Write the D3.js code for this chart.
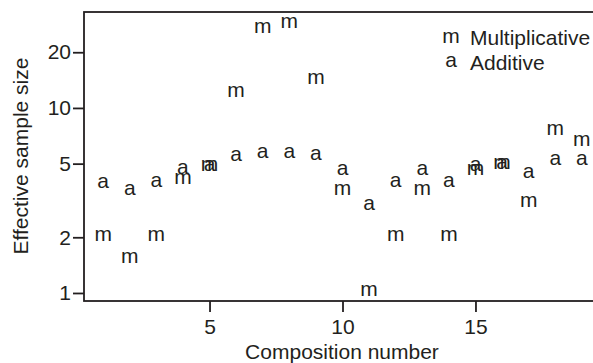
<!DOCTYPE html>
<html>
<head>
<meta charset="utf-8">
<script src="https://cdn.jsdelivr.net/npm/d3@7"></script>
<style>
  body { margin: 0; background: #fff; }
  svg { display: block; }
  text { font-family: "Liberation Sans", Arial, Helvetica, sans-serif; fill: #231f20; }
</style>
</head>
<body>
<svg id="chart" width="593" height="363"></svg>
<script>
// composition numbers 1..19
const compositions = d3.range(1, 20);
// effective sample size
const multiplicative = [2.05, 1.55, 2.05, 4.15, 4.87, 12.2, 27.2, 29.0, 14.4, 3.63,
                        1.03, 2.05, 3.63, 2.05, 4.63, 5.03, 3.12, 7.69, 6.66];
const additive = [3.97, 3.63, 3.99, 4.71, 4.88, 5.55, 5.71, 5.72, 5.62, 4.65,
                  3.00, 3.98, 4.65, 3.98, 4.87, 5.03, 4.45, 5.26, 5.26];
const xTicks = [5, 10, 15];
const yTicks = [1, 2, 5, 10, 20];
const legendSymbols = ['m', 'a'];
const legendLabels = ['Multiplicative', 'Additive'];

const ink = '#231f20';
const fs = 21;

const svg = d3.select('#chart');

const x = d3.scaleLinear().domain([0.28, 19.72]).range([84, 601]);
const y = d3.scaleLog().domain([0.905, 33.0]).range([301, 12]);

// box (right side falls outside the picture)
svg.append('rect')
  .attr('x', x.range()[0]).attr('y', y.range()[1])
  .attr('width', x.range()[1] - x.range()[0])
  .attr('height', y.range()[0] - y.range()[1])
  .attr('fill', 'none')
  .attr('stroke', ink)
  .attr('stroke-width', 1.8);

const xAxis = svg.append('g')
  .attr('transform', `translate(0,${y.range()[0]})`)
  .call(d3.axisBottom(x).tickValues(xTicks).tickSize(11).tickPadding(7).tickFormat(d3.format('d')));

const yAxis = svg.append('g')
  .attr('transform', `translate(${x.range()[0]},0)`)
  .call(d3.axisLeft(y).tickValues(yTicks).tickSize(11).tickPadding(2).tickFormat(d3.format('d')));

[xAxis, yAxis].forEach(g => {
  g.select('.domain').remove();
  g.selectAll('.tick line').attr('stroke', ink).attr('stroke-width', 1.8);
  g.selectAll('.tick text')
    .attr('font-size', fs)
    .attr('font-family', '"Liberation Sans", Arial, sans-serif')
    .attr('fill', ink);
});

// markers drawn as letters, centred on the point
const series = [
  { sym: 'a', values: additive },
  { sym: 'm', values: multiplicative }
];
const dy = fs * 0.519 / 2;

series.forEach(s => {
  svg.append('g')
    .selectAll('text')
    .data(compositions.map((c, i) => ({ c, v: s.values[i] })))
    .join('text')
    .attr('x', d => x(d.c))
    .attr('y', d => y(d.v) + dy)
    .attr('text-anchor', 'middle')
    .attr('font-size', fs)
    .text(s.sym);
});

// legend
const legend = svg.append('g').attr('transform', 'translate(451,0)');
legend.selectAll('text.sym')
  .data(legendSymbols)
  .join('text')
  .attr('class', 'sym')
  .attr('x', 0)
  .attr('y', (d, i) => 37.5 + i * 24.5 + dy)
  .attr('text-anchor', 'middle')
  .attr('font-size', fs)
  .text(d => d);
legend.selectAll('text.lab')
  .data(legendLabels)
  .join('text')
  .attr('class', 'lab')
  .attr('x', 19)
  .attr('y', (d, i) => 37.5 + i * 24.5 + 7.5)
  .attr('font-size', fs)
  .text(d => d);

// axis titles
svg.append('text')
  .attr('x', 342)
  .attr('y', 359)
  .attr('text-anchor', 'middle')
  .attr('font-size', fs)
  .text('Composition number');

svg.append('text')
  .attr('transform', 'translate(28,156) rotate(-90)')
  .attr('text-anchor', 'middle')
  .attr('font-size', fs)
  .text('Effective sample size');
</script>
</body>
</html>
